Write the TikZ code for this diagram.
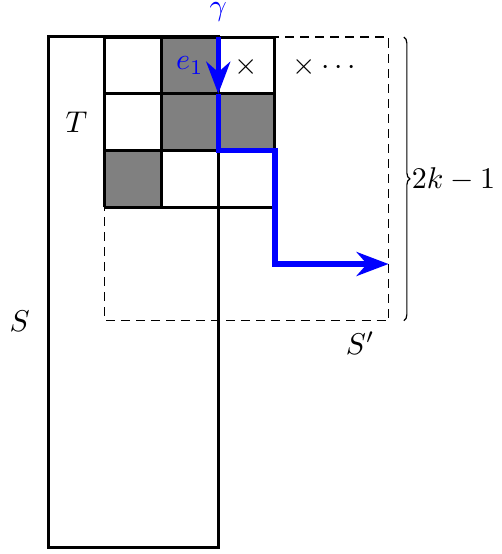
\documentclass[tikz,border=0pt]{standalone}
\usetikzlibrary{arrows.meta,decorations.pathreplacing}
\begin{document}
\begin{tikzpicture}[x=18.9pt, y=18.9pt, >={Stealth},
		cell/.style={line width=1pt},
		walk/.style={blue, line width=1.7pt},
		region/.style={thin, dash pattern=on 3pt off 2pt}]
	\useasboundingbox (-0.846,0.652) rectangle (7.982,-9.11);
	% shaded cells of T
	\fill[gray] (2,0) rectangle (3,-2);
	\fill[gray] (3,-1) rectangle (4,-2);
	\fill[gray] (1,-2) rectangle (2,-3);
	\draw[cell, step=18.9pt] (1,-3) grid (4,0);
	\draw[cell] (0,0) rectangle (3,-9);
	\draw[region] (1,0) rectangle (6,-5);
	\draw[thin, decorate, decoration={brace, amplitude=2pt}] (6.27,0) -- (6.27,-5)
		node[midway, right=1.5pt, inner sep=1pt] (len) {$2k-1$};
	% labels
	\node (T) at (0.5,-1.5) {$T$};
	\node (S) at (-0.5,-5) {$S$};
	\node (Sp) at (5.5,-5.4) {$S'$};
	\node (x1) at (3.5,-0.52) {$\times$};
	\node (x2) at (4.87,-0.52) {$\times\cdots$};
	\node[blue] (e1) at (2.5,-0.5) {$e_1$};
	\node[blue, inner sep=0pt] (gamma) at (3,0.44) {$\gamma$};
	% the path gamma
	\coordinate (g0) at (3,0);
	\coordinate (g1) at (3,-1);
	\coordinate (g2) at (3,-2);
	\coordinate (g3) at (4,-2);
	\coordinate (g4) at (4,-4);
	\coordinate (g5) at (6,-4);
	\draw[walk, ->] (g0) -- (g1);
	\draw[walk, ->] (g1) -- (g2) -- (g3) -- (g4) -- (g5);
\end{tikzpicture}
\end{document}
